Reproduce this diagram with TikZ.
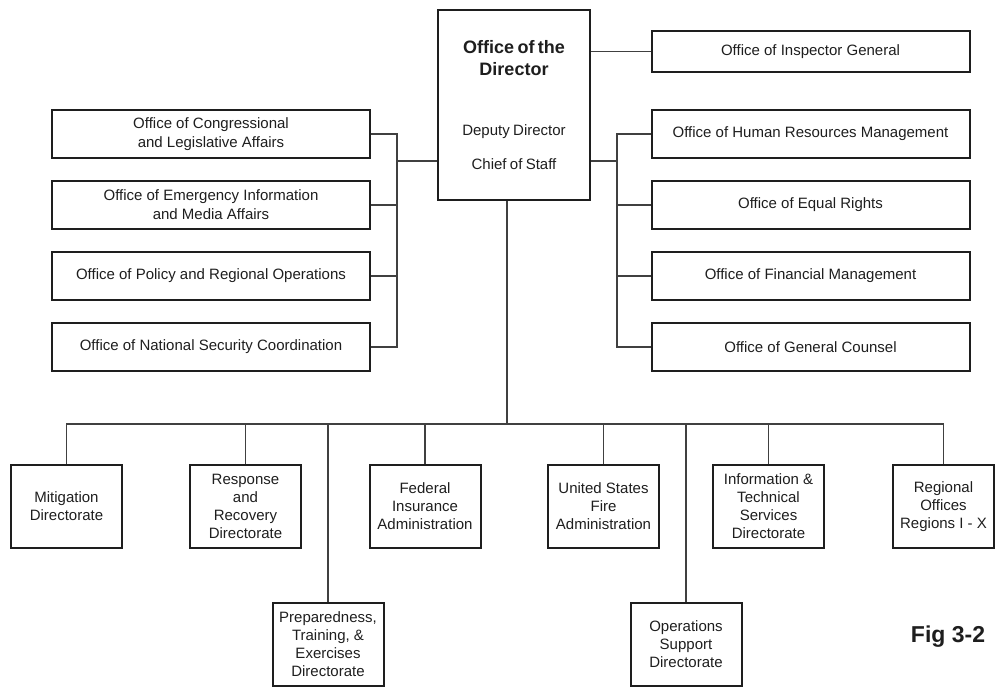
\documentclass[tikz,border=0pt]{standalone}
\usepackage{fontspec}
\setmainfont{Liberation Sans}
\usetikzlibrary{positioning,calc}
\definecolor{inkgray}{HTML}{1E1E1E}
\tikzset{
    office/.style = {draw=inkgray, text=inkgray, line width=2pt,
        minimum width=318pt, minimum height=48pt, inner sep=0pt,
        align=center, font=\fontsize{15}{19}\selectfont},
    unit/.style = {draw=inkgray, text=inkgray, line width=2pt,
        minimum width=111pt, minimum height=83pt, inner sep=0pt,
        align=center, font=\fontsize{15}{18}\selectfont},
    chief/.style = {draw=inkgray, text=inkgray, line width=2pt,
        text width=140pt, inner xsep=6pt, inner ysep=30.5pt, align=center},
    link/.style = {draw=inkgray!85, line width=1.4pt}
}

\begin{document}
\begin{tikzpicture}[x=1pt, y=-1pt]
    \useasboundingbox (0,0) rectangle (995,687);
    % director
    \node [chief, anchor=north] (dir) at (514,9)
        {{\fontsize{18}{22}\selectfont\bfseries Office of the\\Director\par}%
         \fontsize{15}{18}\selectfont\vspace{41.7pt}%
         Deputy Director\par\vspace{19pt}Chief of Staff};
    \node [office, minimum height=41pt] (oig) at (810.5,51.5) {Office of Inspector General};
    % staff offices, right
    \node [office] (ohrm) at (810.5,134) {Office of Human Resources Management};
    \node [office, below=21pt of ohrm] (oer) {Office of Equal Rights};
    \node [office, below=21pt of oer] (ofm) {Office of Financial Management};
    \node [office, below=21pt of ofm] (ogc) {Office of General Counsel};
    % staff offices, left
    \node [office] (ocla) at (211,134) {Office of Congressional\\and Legislative Affairs};
    \node [office, below=21pt of ocla] (oeima) {Office of Emergency Information\\and Media Affairs};
    \node [office, below=21pt of oeima] (opro) {Office of Policy and Regional Operations};
    \node [office, below=21pt of opro] (onsc) {Office of National Security Coordination};
    % directorates
    \node [unit] (mit) at (66.5,506.5) {Mitigation\\Directorate};
    \node [unit] (rrd) at (245.5,506.5) {Response\\and\\Recovery\\Directorate};
    \node [unit] (fia) at (425,506.5) {Federal\\Insurance\\Administration};
    \node [unit] (usfa) at (603.5,506.5) {United States\\Fire\\Administration};
    \node [unit] (itsd) at (768.5,506.5) {Information \&\\Technical\\Services\\Directorate};
    \node [unit, minimum width=101pt] (reg) at (943.5,506.5) {Regional\\Offices\\Regions I - X};
    \node [unit] (pted) at (328,644) {Preparedness,\\Training, \&\\Exercises\\Directorate};
    \node [unit] (osd) at (686,644) {Operations\\Support\\Directorate};
    \node [text=inkgray, font=\bfseries\fontsize{23}{26}\selectfont] (fig) at (948,637) {Fig 3-2};

    % connectors
    \coordinate (lbus) at (397,161);
    \coordinate (rbus) at (617,161);
    \coordinate (bbus) at (507,424);
    \draw [link] (dir.east |- oig) -- (oig.west);
    \draw [link] (rbus -| dir.east) -- (rbus);
    \draw [link] (lbus -| dir.west) -- (lbus);
    \draw [link] (ohrm.west) -| (rbus) |- (ogc.west);
    \draw [link] (ocla.east) -| (lbus) |- (onsc.east);
    \foreach \n in {oer,ofm}
        \draw [link] (\n.west) -- (\n.west -| rbus);
    \foreach \n in {oeima,opro}
        \draw [link] (\n.east) -- (\n.east -| lbus);
    \draw [link] (dir.south -| bbus) -- (bbus);
    \draw [link] (mit.north) |- (bbus) -| (reg.north);
    \foreach \n in {rrd,fia,usfa,itsd,pted,osd}
        \draw [link] (\n.north |- bbus) -- (\n.north);
\end{tikzpicture}
\end{document}
